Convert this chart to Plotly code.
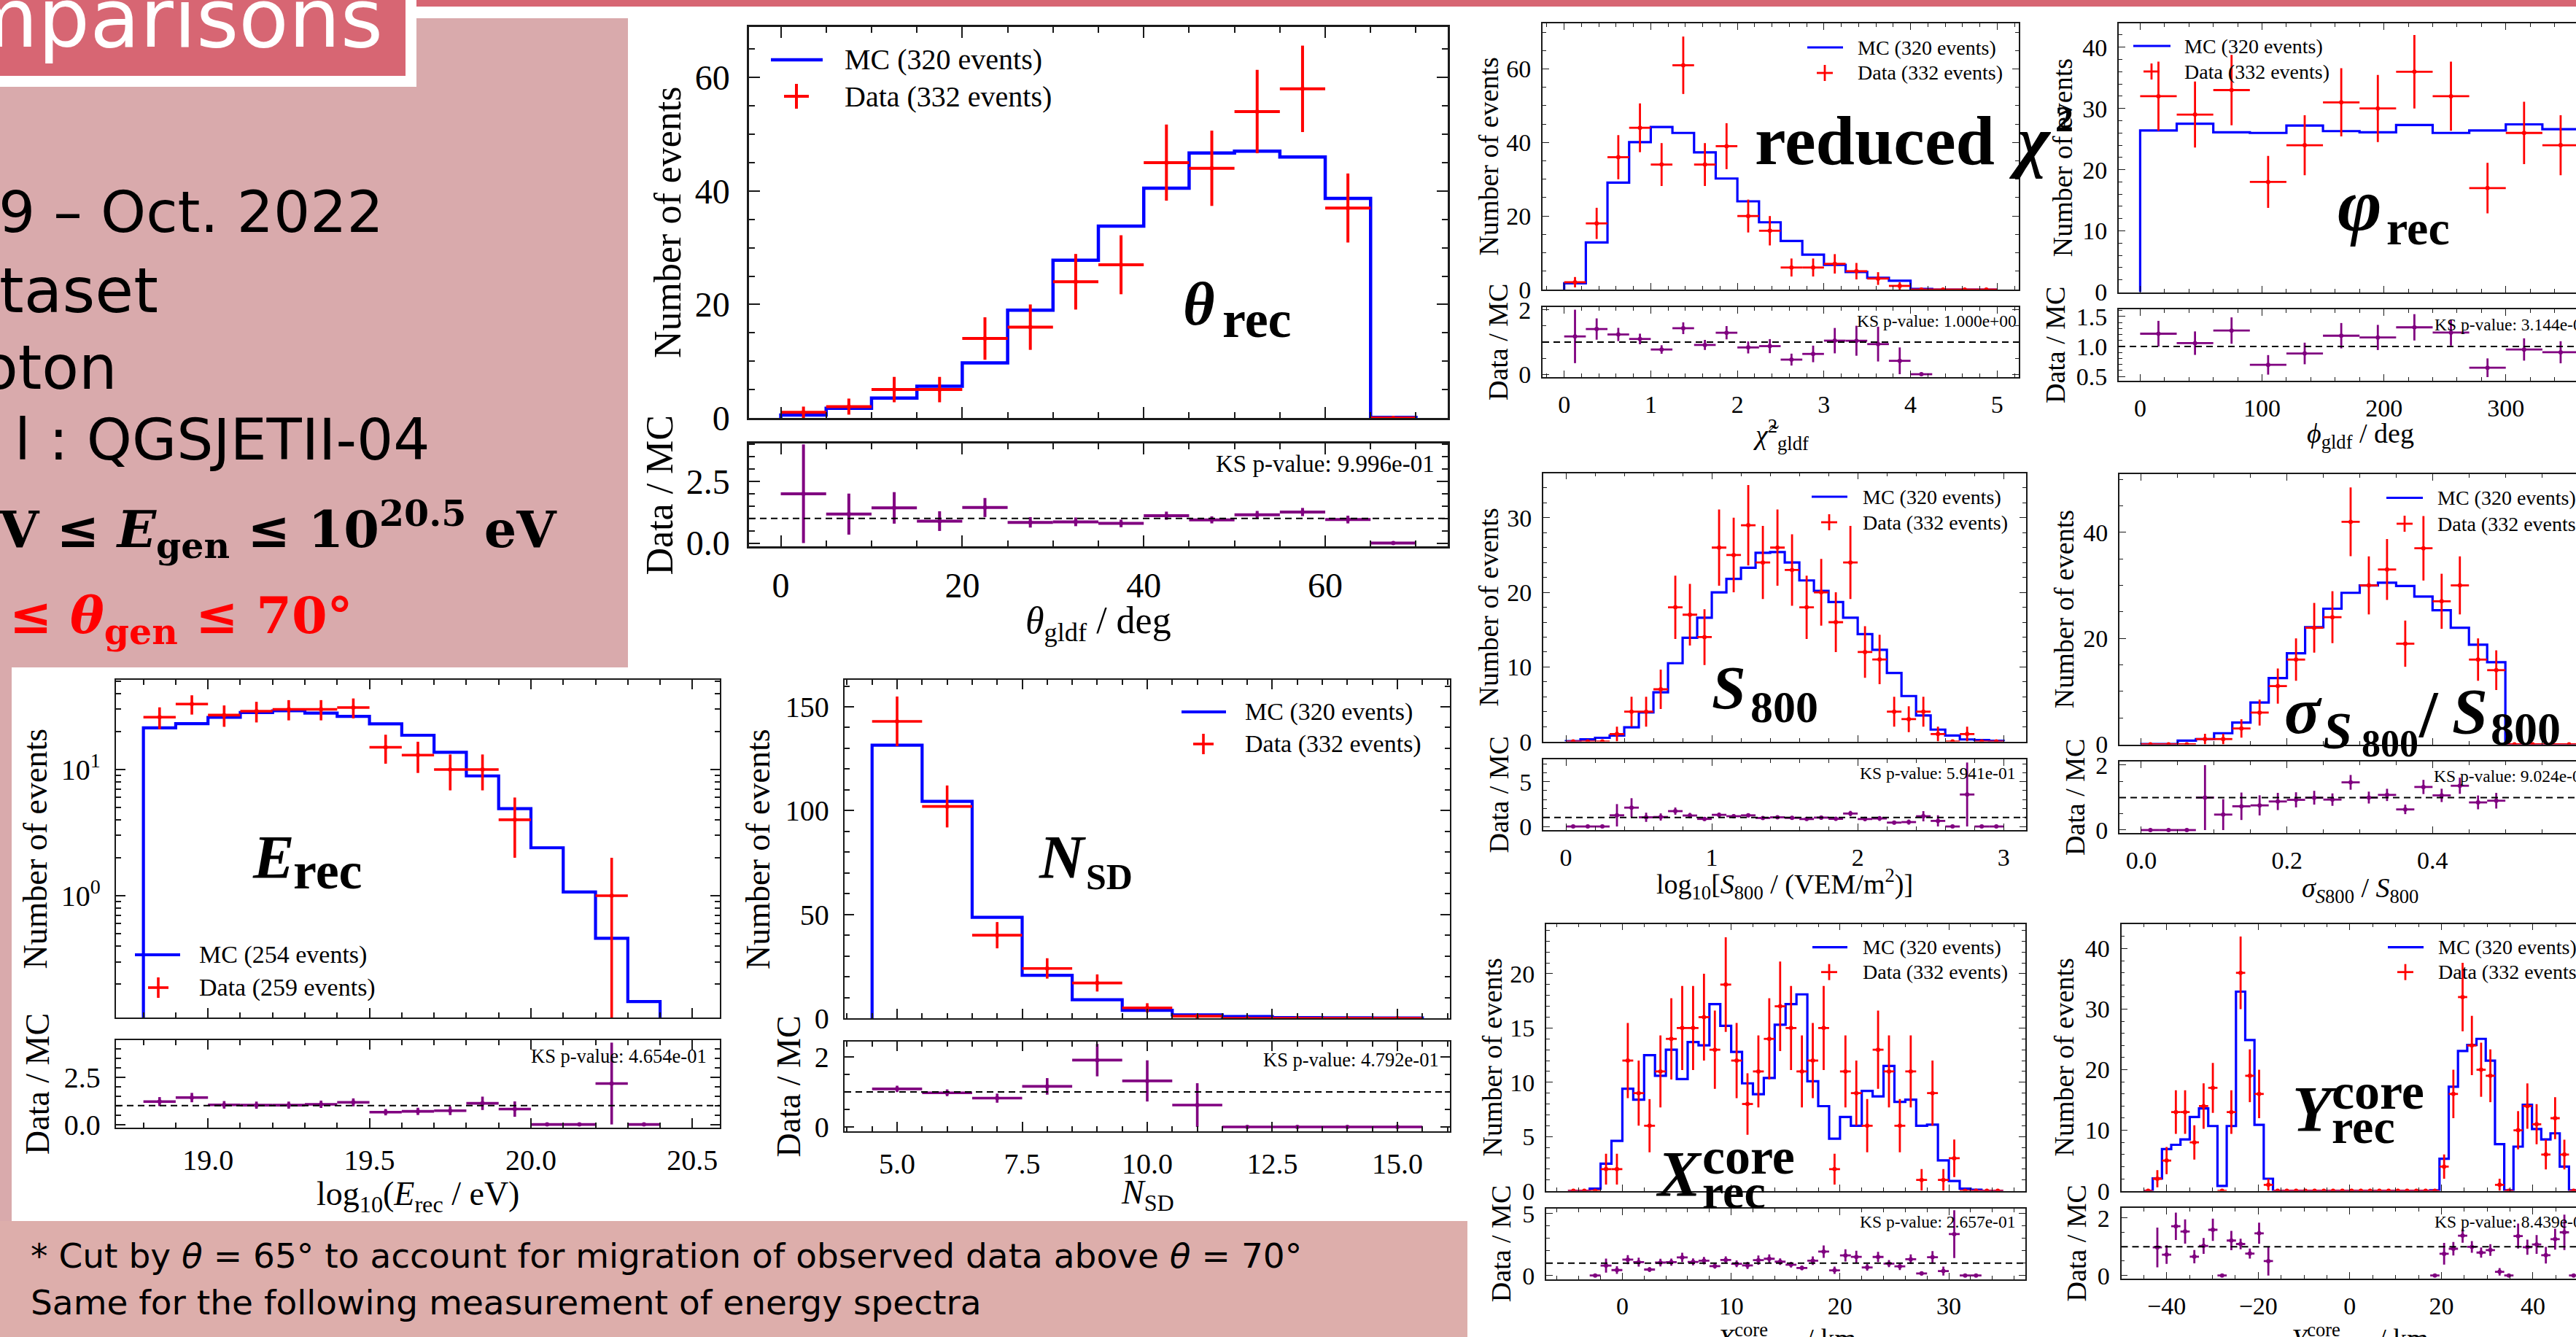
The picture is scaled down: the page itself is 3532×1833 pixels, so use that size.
import numpy as np
import plotly.graph_objects as go

W, H = 3532, 1833
SERIF = "Liberation Serif"
SANS = "DejaVu Sans"
MATH = "DejaVu Serif"
BLUE, RED, PURPLE = "#0000ff", "#ff0000", "#800080"
AXIS = "#1a1a1a"
PINK_LIGHT = "#d9aaac"
PINK_BANNER = "#ddaeab"
PINK_DARK = "#d76673"

# ---------------- data (bin settings: low edge, high edge, number of bins) ----------------
theta_bins = (0.0, 70.0, 14)
theta_mc = [0.5, 1.7, 3.5, 5.6, 9.7, 19.0, 27.8, 33.8, 40.5, 46.7, 47.0, 46.0, 38.7, 0.1]
theta_data = [1, 2, 5, 5, 14, 16, 24, 27, 45, 44, 54, 58, 37, 0]

energy_bins = (18.8, 20.5, 17)
energy_mc = [21.4, 23.1, 25.9, 28.3, 29.2, 28.0, 26.4, 23.0, 18.7, 13.7, 8.9, 4.9, 2.4, 1.07, 0.46, 0.145, 0.0]
energy_data = [26, 33, 27, 29, 30, 30, 31, 15, 13, 10, 10, 4, 0, 0, 1, 0, 0]

nsd_bins = (4.5, 15.5, 11)
nsd_mc = [131.5, 104.5, 48.6, 20.7, 8.9, 3.8, 1.6, 0.8, 0.3, 0.2, 0.1]
nsd_data = [143, 102, 40, 24, 17, 5, 1, 0, 0, 0, 0]

chi2_bins = (0.0, 5.0, 20)
chi2_mc = [1.7, 12.8, 29.1, 40.1, 44.2, 42.6, 37.3, 30.2, 24.0, 18.3, 13.2, 9.5, 6.7, 4.8, 3.2, 2.4, 0.2, 0.0, 0.0, 0.0]
chi2_data = [2, 18, 36, 44, 34, 61, 34, 39, 20, 16, 6, 6, 7, 5, 3, 1, 0, 0, 0, 0]

phi_bins = (0.0, 360.0, 12)
phi_mc = [26.4, 27.5, 26.1, 26.0, 27.2, 26.3, 26.1, 27.3, 26.0, 26.4, 27.4, 26.6]
phi_data = [32, 29, 33, 18, 24, 31, 30, 36, 32, 17, 26, 24]

s800_bins = (0.0, 3.0, 30)
s800_mc = [0.05, 0.3, 0.5, 0.8, 1.9, 3.9, 6.6, 10.5, 13.9, 16.6, 20.0, 21.8, 23.3, 25.3, 25.4,
           24.0, 21.6, 20.2, 18.7, 16.6, 14.4, 12.3, 9.2, 6.1, 3.5, 1.6, 0.8, 0.28, 0.2, 0.1]
s800_data = [0, 0, 0, 1, 4, 4, 7, 18, 17, 14, 26, 25, 29, 24, 26,
             23, 18, 20, 16, 24, 12, 11, 4, 3, 4, 1, 0, 1, 0, 0]

sigma_bins = (0.0, 0.6, 24)
sigma_mc = [0.05, 0.05, 0.7, 1.0, 2.1, 4.1, 7.9, 12.5, 17.2, 22.1, 25.6, 28.6, 30.0, 30.5, 29.9,
            27.9, 25.3, 22.0, 18.8, 15.5, 0.0, 0.0, 0.0, 0.0]
sigma_data = [0, 0, 0, 1, 1, 3, 6, 11, 16, 22, 24, 42, 30, 33, 19, 37, 27, 30, 16, 14, 0, 0, 0, 0]

xcore_bins = (-5.0, 35.0, 40)
xcore_mc = [0.0, 0.0, 0.2, 2.5, 4.6, 9.4, 8.4, 12.5, 10.6, 13.0, 10.3, 13.7, 13.4, 17.2, 15.2,
            12.8, 9.9, 8.9, 10.4, 15.3, 17.2, 18.1, 10.1, 7.8, 4.8, 6.8, 6.0, 9.2, 8.7, 11.5,
            8.2, 8.4, 6.0, 6.1, 2.8, 0.9, 0.2, 0.1, 0.0, 0.0]
xcore_data = [0, 0, 0, 2, 2, 12, 9, 6, 11, 14, 15, 15, 16, 13, 19,
              12, 8, 11, 14, 17, 15, 11, 12, 15, 2, 11, 9, 6, 13, 11,
              6, 11, 1, 9, 1, 3, 0, 0, 0, 0]

ycore_bins = (-45.05, 55.95, 50)
ycore_mc = [0.0, 2.05, 6.9, 7.6, 8.5, 12.2, 13.6, 10.7, 0.8, 10.7, 32.9, 24.9, 10.9, 2.0,
            0.0, 0.0, 0.0, 0.0, 0.0, 0.0, 0.0, 0.0, 0.0, 0.0, 0.0, 0.0, 0.0, 0.0, 0.0, 0.0, 0.0,
            0.1, 5.3, 17.2, 23.1, 24.1, 25.1, 21.5, 7.7, 0.1, 7.3, 14.2, 10.2, 8.5, 9.5, 4.0, 0.1,
            0.0, 0.0, 0.0]
ycore_data = [0, 2, 5, 13, 13, 8, 14, 17, 0, 13, 36, 19, 16, 1,
              0, 0, 0, 0, 0, 0, 0, 0, 0, 0, 0, 0, 0, 0, 0, 0, 0,
              0, 4, 16, 32, 24, 20, 19, 1, 0, 10, 14, 11, 6, 12, 6, 0,
              0, 0, 0]

legend_mc = "MC (320 events)"
legend_data = "Data (332 events)"
legend_mc_e = "MC (254 events)"
legend_data_e = "Data (259 events)"

# ---------------- panel layout specs (pixel geometry of the 3532x1833 slide) ----------------
BIG = dict(tf=48, ttl=52, lf=40, kf=33, lw=4.5, et=4, tl=15, tlm=8, axw=2.5, ysl=14, xsl=10, ch=17)
MID = dict(tf=40, ttl=46, lf=34, kf=26.5, lw=4.2, et=3.6, tl=13, tlm=7, axw=2.3, ysl=11, xsl=8, ch=14)
SML = dict(tf=34, ttl=38, lf=28, kf=23.5, lw=3.2, et=2.8, tl=9, tlm=5, axw=1.8, ysl=7, xsl=6, ch=11)

P = [
    dict(bins=theta_bins, mc=theta_mc, data=theta_data, st=BIG,
         bx=(1027, 1985), my=(37, 573), ry=(608, 749),
         xr=[-3.5, 73.5], yr=[0, 68.9], rr=[-0.13, 4.04], log=False,
         xd=20, xm=5, xf="", yd=20, ym=5, rd=2.5, rm=0.5, rf=".1f",
         ylx=915, rlx=904, xt="<i>θ</i><sub>gldf</sub> / deg", xtx=1506, xty=855, xtya="middle",
         leg=dict(lx=(1057, 1128), ly=82, cx=1092, cy=132, tx=1156, t1=legend_mc, t2=legend_data),
         ks=("KS p-value: 9.996e-01", 1969, 636, "right"), cut=False,
         lab=[("<b><i>θ</i></b>", 1620, 445, 84), ("<b>rec</b>", 1674, 462, 72)]),
    dict(bins=energy_bins, mc=energy_mc, data=energy_data, st=MID,
         bx=(159, 987), my=(932, 1395), ry=(1426, 1546),
         xr=[18.715, 20.585], yr=[-0.965, 1.711], rr=[-0.17, 4.48], log=True,
         xd=0.5, xm=0.1, xf=".1f", yd=None, ym=None, rd=2.5, rm=0.5, rf=".1f",
         ylx=48, rlx=51, xt="log<sub>10</sub>(<i>E</i><sub>rec</sub> / eV)", xtx=573, xty=1640, xtya="middle",
         leg=dict(lx=(185, 247), ly=1309, cx=217, cy=1354, tx=271, t1=legend_mc_e, t2=legend_data_e),
         ks=("KS p-value: 4.654e-01", 971, 1448, "right"), cut=False,
         lab=[("<b><i>E</i></b>", 344, 1204, 85), ("<b>rec</b>", 400, 1218, 72)]),
    dict(bins=nsd_bins, mc=nsd_mc, data=nsd_data, st=MID,
         bx=(1158, 1988), my=(932, 1396), ry=(1428, 1551),
         xr=[3.95, 16.05], yr=[0, 163], rr=[-0.125, 2.44], log=False,
         xd=2.5, xm=0.5, xf=".1f", yd=50, ym=10, rd=2, rm=0.5, rf="",
         ylx=1039, rlx=1081, xt="<i>N</i><sub>SD</sub>", xtx=1573, xty=1638, xtya="middle",
         leg=dict(lx=(1620, 1681), ly=976, cx=1650, cy=1020, tx=1705, t1=legend_mc, t2=legend_data),
         ks=("KS p-value: 4.792e-01", 1975, 1453, "right"), cut=False,
         lab=[("<b><i>N</i></b>", 1422, 1204, 85), ("<b>SD</b>", 1487, 1219, 50)]),
    dict(bins=chi2_bins, mc=chi2_mc, data=chi2_data, st=SML,
         bx=(2115, 2768), my=(32, 397), ry=(421, 517),
         xr=[-0.25, 5.25], yr=[0, 72.4], rr=[-0.09, 2.09], log=False,
         xd=1, xm=0.2, xf="", yd=20, ym=5, rd=2, rm=0.5, rf="",
         ylx=2040, rlx=2054, xt="<i>χ̃</i><sup>2</sup><sub>gldf</sub>", xtx=2441, xty=596, xtya="middle",
         leg=dict(lx=(2478, 2527), ly=65, cx=2502, cy=100, tx=2545, t1=legend_mc, t2=legend_data),
         ks=("KS p-value: 1.000e+00", 2767, 440, "right"), cut=False,
         lab=[("<b>reduced</b>", 2404, 225, 96), ("<b><i>χ</i></b>", 2752, 225, 96), ("<b>2</b>", 2816, 180, 50)]),
    dict(bins=phi_bins, mc=phi_mc, data=phi_data, st=SML,
         bx=(2905, 3532), my=(32, 400.5), ry=(424, 522),
         xr=[-17.6, 357.6], yr=[0, 43.9], rr=[0.427, 1.62], log=False,
         xd=100, xm=20, xf="", yd=10, ym=2, rd=0.5, rm=0.1, rf=".1f",
         ylx=2828, rlx=2818, xt="<i>ϕ</i><sub>gldf</sub> / deg", xtx=3236, xty=597, xtya="middle",
         leg=dict(lx=(2925, 2976), ly=63, cx=2950, cy=98, tx=2993, t1=legend_mc, t2=legend_data),
         ks=("KS p-value: 3.144e-01", 3336, 445, "left"), cut=True,
         lab=[("<b><i>φ</i></b>", 3203, 316, 104), ("<b>rec</b>", 3270, 335, 66)]),
    dict(bins=s800_bins, mc=s800_mc, data=s800_data, st=SML,
         bx=(2116, 2778), my=(648.5, 1016.6), ry=(1041, 1138),
         xr=[-0.155, 3.154], yr=[0, 36.0], rr=[-0.4, 7.5], log=False,
         xd=1, xm=0.2, xf="", yd=10, ym=2, rd=5, rm=1, rf="",
         ylx=2041, rlx=2054, xt="log<sub>10</sub>[<i>S</i><sub>800</sub> / (VEM/m<sup>2</sup>)]", xtx=2447, xty=1212, xtya="middle",
         leg=dict(lx=(2484, 2533), ly=681, cx=2508, cy=716, tx=2552, t1=legend_mc, t2=legend_data),
         ks=("KS p-value: 5.941e-01", 2765, 1060, "right"), cut=False,
         lab=[("<b><i>S</i></b>", 2345, 972, 84), ("<b>800</b>", 2398, 990, 62)]),
    dict(bins=sigma_bins, mc=sigma_mc, data=sigma_data, st=SML,
         bx=(2906, 3532), my=(650, 1020.5), ry=(1044, 1142),
         xr=[-0.03, 0.597], yr=[0, 51.0], rr=[-0.09, 2.11], log=False,
         xd=0.2, xm=0.05, xf=".1f", yd=20, ym=5, rd=2, rm=0.5, rf="",
         ylx=2830, rlx=2845, xt="<i>σ</i><sub><i>S</i>800</sub> / <i>S</i><sub>800</sub>", xtx=3236, xty=1220, xtya="middle",
         leg=dict(lx=(3272, 3322), ly=682.5, cx=3297, cy=718, tx=3340, t1=legend_mc, t2=legend_data),
         ks=("KS p-value: 9.024e-01", 3335, 1064, "left"), cut=True,
         lab=[("<b><i>σ</i></b>", 3130, 1005, 92), ("<b><i>S</i></b>", 3183, 1026, 72),
              ("<b>800</b>", 3236, 1037, 52), ("<b>/</b>", 3314, 1010, 92),
              ("<b><i>S</i></b>", 3360, 1005, 88), ("<b>800</b>", 3413, 1021, 64)]),
    dict(bins=xcore_bins, mc=xcore_mc, data=xcore_data, st=SML,
         bx=(2120, 2776.5), my=(1266.5, 1632.6), ry=(1656.8, 1753.6),
         xr=[-7.0, 37.0], yr=[0, 24.6], rr=[-0.29, 5.4], log=False,
         xd=10, xm=2, xf="", yd=5, ym=1, rd=5, rm=1, rf="",
         ylx=2046, rlx=2058, xt="<i>X</i><sup>core</sup><sub>gldf</sub> / km", xtx=2449, xty=1806, xtya="top",
         leg=dict(lx=(2485, 2533), ly=1298.6, cx=2508, cy=1332.7, tx=2552, t1=legend_mc, t2=legend_data),
         ks=("KS p-value: 2.657e-01", 2765, 1675, "right"), cut=False,
         lab=[("<b><i>X</i></b>", 2268, 1639, 88), ("<b>core</b>", 2332, 1609, 70), ("<b>rec</b>", 2332, 1656, 66)]),
    dict(bins=ycore_bins, mc=ycore_mc, data=ycore_data, st=SML,
         bx=(2908.5, 3532), my=(1266.5, 1632.6), ry=(1656, 1753),
         xr=[-49.9, 49.4], yr=[0, 44.1], rr=[-0.11, 2.35], log=False,
         xd=20, xm=5, xf="", yd=10, ym=2, rd=2, rm=0.5, rf="",
         ylx=2830, rlx=2846, xt="<i>Y</i><sup>core</sup><sub>gldf</sub> / km", xtx=3236, xty=1806, xtya="top",
         leg=dict(lx=(3274, 3323), ly=1298.6, cx=3298, cy=1332.7, tx=3341, t1=legend_mc, t2=legend_data),
         ks=("KS p-value: 8.439e-01", 3336, 1675, "left"), cut=True,
         lab=[("<b><i>Y</i></b>", 3141, 1550, 88), ("<b>core</b>", 3195, 1520, 70), ("<b>rec</b>", 3195, 1567, 66)]),
]

# ---------------- helpers ----------------
anns, shapes, traces = [], [], []


def ann(text, x, y, size, xa="left", ya="middle", family=SERIF, color="black", angle=0):
    anns.append(dict(text=text, x=x / W, y=1 - y / H, xref="paper", yref="paper",
                     xanchor=xa, yanchor=ya, showarrow=False, textangle=angle,
                     font=dict(family=family, size=size, color=color)))


def ann_base(text, x, base, size, xa="left", family=SERIF, color="black", k=None):
    if k is None:
        k = 0.34 if family == SERIF else 0.35
    ann(text, x, base - k * size, size, xa, "middle", family, color)


def rect(x0, y0, x1, y1, color):
    shapes.append(dict(type="rect", xref="paper", yref="paper", layer="below",
                       x0=x0 / W, x1=x1 / W, y0=1 - y1 / H, y1=1 - y0 / H,
                       fillcolor=color, line=dict(width=0)))


def pline(x0, y0, x1, y1, color, width):
    shapes.append(dict(type="line", xref="paper", yref="paper",
                       x0=x0 / W, x1=x1 / W, y0=1 - y0 / H, y1=1 - y1 / H,
                       line=dict(color=color, width=width)))


def axname(kind, k):
    return kind if k == 1 else f"{kind}{k}"


def ref(kind, k):
    return kind if k == 1 else f"{kind}{k}"


def base_axis(st, dt, mdt, fmt):
    d = dict(showline=True, linecolor=AXIS, linewidth=st["axw"], ticks="inside",
             ticklen=st["tl"], tickwidth=st["axw"] * 0.8, tickcolor=AXIS,
             showgrid=False, zeroline=False, automargin=False,
             tickfont=dict(family=SERIF, size=st["tf"], color="black"))
    if dt is not None:
        d.update(dtick=dt, tick0=0,
                 minor=dict(ticks="inside", ticklen=st["tlm"], tickwidth=st["axw"] * 0.7,
                            tickcolor=AXIS, dtick=mdt, showgrid=False))
    if fmt:
        d["tickformat"] = fmt
    return d


layout_axes = {}

for i, p in enumerate(P):
    st = p["st"]
    km, kr = 2 * i + 1, 2 * i + 2
    edges = np.linspace(p["bins"][0], p["bins"][1], p["bins"][2] + 1)
    centers = 0.5 * (edges[:-1] + edges[1:])
    half = 0.5 * (edges[1:] - edges[:-1])
    mc = np.array(p["mc"], float)
    dat = np.array(p["data"], float)
    err = np.sqrt(dat)

    xdom = [p["bx"][0] / W, min(p["bx"][1] / W, 1.0)]
    ydom_m = [1 - p["my"][1] / H, 1 - p["my"][0] / H]
    ydom_r = [1 - p["ry"][1] / H, 1 - p["ry"][0] / H]

    xa_m = base_axis(st, p["xd"], p["xm"], p["xf"])
    xa_m.update(domain=xdom, range=p["xr"], anchor=ref("y", km), showticklabels=False, mirror="allticks")
    xa_r = base_axis(st, p["xd"], p["xm"], p["xf"])
    xa_r.update(domain=xdom, range=p["xr"], anchor=ref("y", kr), mirror="allticks",
                ticklabelstandoff=st["xsl"])
    if p["log"]:
        ya_m = base_axis(st, None, None, "")
        ya_m.update(type="log", range=p["yr"], tickmode="array", tickvals=[1, 10],
                    ticktext=["10<sup>0</sup>", "10<sup>1</sup>"],
                    minor=dict(ticks="inside", ticklen=st["tlm"], tickwidth=st["axw"] * 0.7,
                               tickcolor=AXIS, tickmode="array", showgrid=False,
                               tickvals=[0.2, 0.3, 0.4, 0.5, 0.6, 0.7, 0.8, 0.9,
                                         2, 3, 4, 5, 6, 7, 8, 9, 20, 30, 40, 50]))
    else:
        ya_m = base_axis(st, p["yd"], p["ym"], "")
        ya_m.update(range=p["yr"])
    ya_m.update(domain=ydom_m, anchor=ref("x", km), mirror=(False if p["cut"] else "allticks"),
                ticklabelstandoff=st["ysl"])
    ya_r = base_axis(st, p["rd"], p["rm"], p["rf"])
    ya_r.update(domain=ydom_r, range=p["rr"], anchor=ref("x", kr),
                mirror=(False if p["cut"] else "allticks"), ticklabelstandoff=st["ysl"])
    layout_axes[axname("xaxis", km)] = xa_m
    layout_axes[axname("yaxis", km)] = ya_m
    layout_axes[axname("xaxis", kr)] = xa_r
    layout_axes[axname("yaxis", kr)] = ya_r

    # MC step histogram
    floor = 1e-3 if p["log"] else 0.0
    vals = [max(v, floor) for v in mc]
    sx = [edges[0]] + list(edges[:-1]) + [edges[-1], edges[-1]]
    sy = [floor] + vals + [vals[-1], floor]
    traces.append(go.Scatter(x=sx, y=sy, mode="lines", line=dict(color=BLUE, width=st["lw"], shape="hv"),
                             xaxis=ref("x", km), yaxis=ref("y", km), hoverinfo="skip"))

    # data crosses
    if p["log"]:
        sel = dat > 0
        errm = np.where(dat - err <= 0, dat * 0.999, err)
    else:
        sel = np.ones_like(dat, bool)
        errm = err
    traces.append(go.Scatter(
        x=centers[sel], y=dat[sel], mode="markers", marker=dict(size=0, color=RED),
        error_x=dict(type="data", array=half[sel], symmetric=True, width=0, thickness=st["et"], color=RED),
        error_y=dict(type="data", array=err[sel], arrayminus=errm[sel], symmetric=False, width=0,
                     thickness=st["et"], color=RED),
        xaxis=ref("x", km), yaxis=ref("y", km), hoverinfo="skip"))

    # ratio Data / MC
    ok = mc > 0
    safe = np.where(ok, mc, 1.0)
    ratio = dat / safe
    rerr = err / safe
    traces.append(go.Scatter(
        x=centers[ok], y=ratio[ok], mode="markers", marker=dict(size=0, color=PURPLE),
        error_x=dict(type="data", array=half[ok], symmetric=True, width=0, thickness=st["et"], color=PURPLE),
        error_y=dict(type="data", array=rerr[ok], symmetric=True, width=0, thickness=st["et"], color=PURPLE),
        xaxis=ref("x", kr), yaxis=ref("y", kr), hoverinfo="skip"))

    shapes.append(dict(type="line", xref=f"{ref('x', kr)} domain", yref=ref("y", kr),
                       x0=0, x1=1, y0=1, y1=1, line=dict(color="black", width=2, dash="9px,6px")))

    # axis titles
    ann("Number of events", p["ylx"], (p["my"][0] + p["my"][1]) / 2, st["ttl"], "center", "middle", angle=-90)
    ann("Data / MC", p["rlx"], (p["ry"][0] + p["ry"][1]) / 2, st["ttl"], "center", "middle", angle=-90)
    ann(p["xt"], p["xtx"], p["xty"], st["ttl"], "center", p["xtya"])

    # legend
    lg = p["leg"]
    pline(lg["lx"][0], lg["ly"], lg["lx"][1], lg["ly"], BLUE, st["lw"])
    pline(lg["cx"] - st["ch"], lg["cy"], lg["cx"] + st["ch"], lg["cy"], RED, st["et"])
    pline(lg["cx"], lg["cy"] - st["ch"], lg["cx"], lg["cy"] + st["ch"], RED, st["et"])
    ann(lg["t1"], lg["tx"], lg["ly"], st["lf"])
    ann(lg["t2"], lg["tx"], lg["cy"], st["lf"])

    # KS annotation
    kt, kx, ky, kxa = p["ks"]
    ann(kt, kx, ky, st["kf"], kxa, "middle")

    # big variable label
    for txt, lx, base, size in p["lab"]:
        ann_base(txt, lx, base, size)

# ---------------- slide decoration ----------------
rect(0, 25, 861, 915, PINK_LIGHT)
rect(0, 900, 16, 1674, PINK_LIGHT)
rect(0, 1674, 2012, 1833, PINK_BANNER)
rect(0, 0, 571, 119, "#ffffff")
rect(0, 0, 556, 104, PINK_DARK)
rect(571, 0, 3532, 9, PINK_DARK)

ann_base("mparisons", 527, 64, 112, "right", SANS, "white")
ann_base("9 – Oct. 2022", 528, 319, 79, "right", SANS)
ann_base("taset", 219, 428, 86, "right", SANS)
ann_base("oton", 163, 534, 83, "right", SANS)
ann_base("l : QGSJETII-04", 591, 631, 79, "right", SANS)
ann_base("<b>V ≤ <i>E</i><sub>gen</sub> ≤ 10<sup>20.5</sup> eV</b>", 766, 750, 70, "right", MATH, k=0.346)
ann_base("<b>≤ <i>θ</i><sub>gen</sub> ≤ 70°</b>", 486, 873, 70, "right", MATH, RED, k=0.346)

ann_base("* Cut by <i>θ</i> = 65° to account for migration of observed data above <i>θ</i> = 70°",
         40, 1738, 47, "left", SANS)
ann_base("Same for the following measurement of energy spectra", 40, 1802, 47, "left", SANS)

fig = go.Figure(data=traces)
fig.update_layout(template="none", width=W, height=H, autosize=False,
                  margin=dict(l=0, r=0, t=0, b=0, pad=0, autoexpand=False),
                  paper_bgcolor="white", plot_bgcolor="white", showlegend=False,
                  font=dict(family=SERIF, color="black"),
                  annotations=anns, shapes=shapes, **layout_axes)
fig.write_html("out.html", config={"displayModeBar": False})
